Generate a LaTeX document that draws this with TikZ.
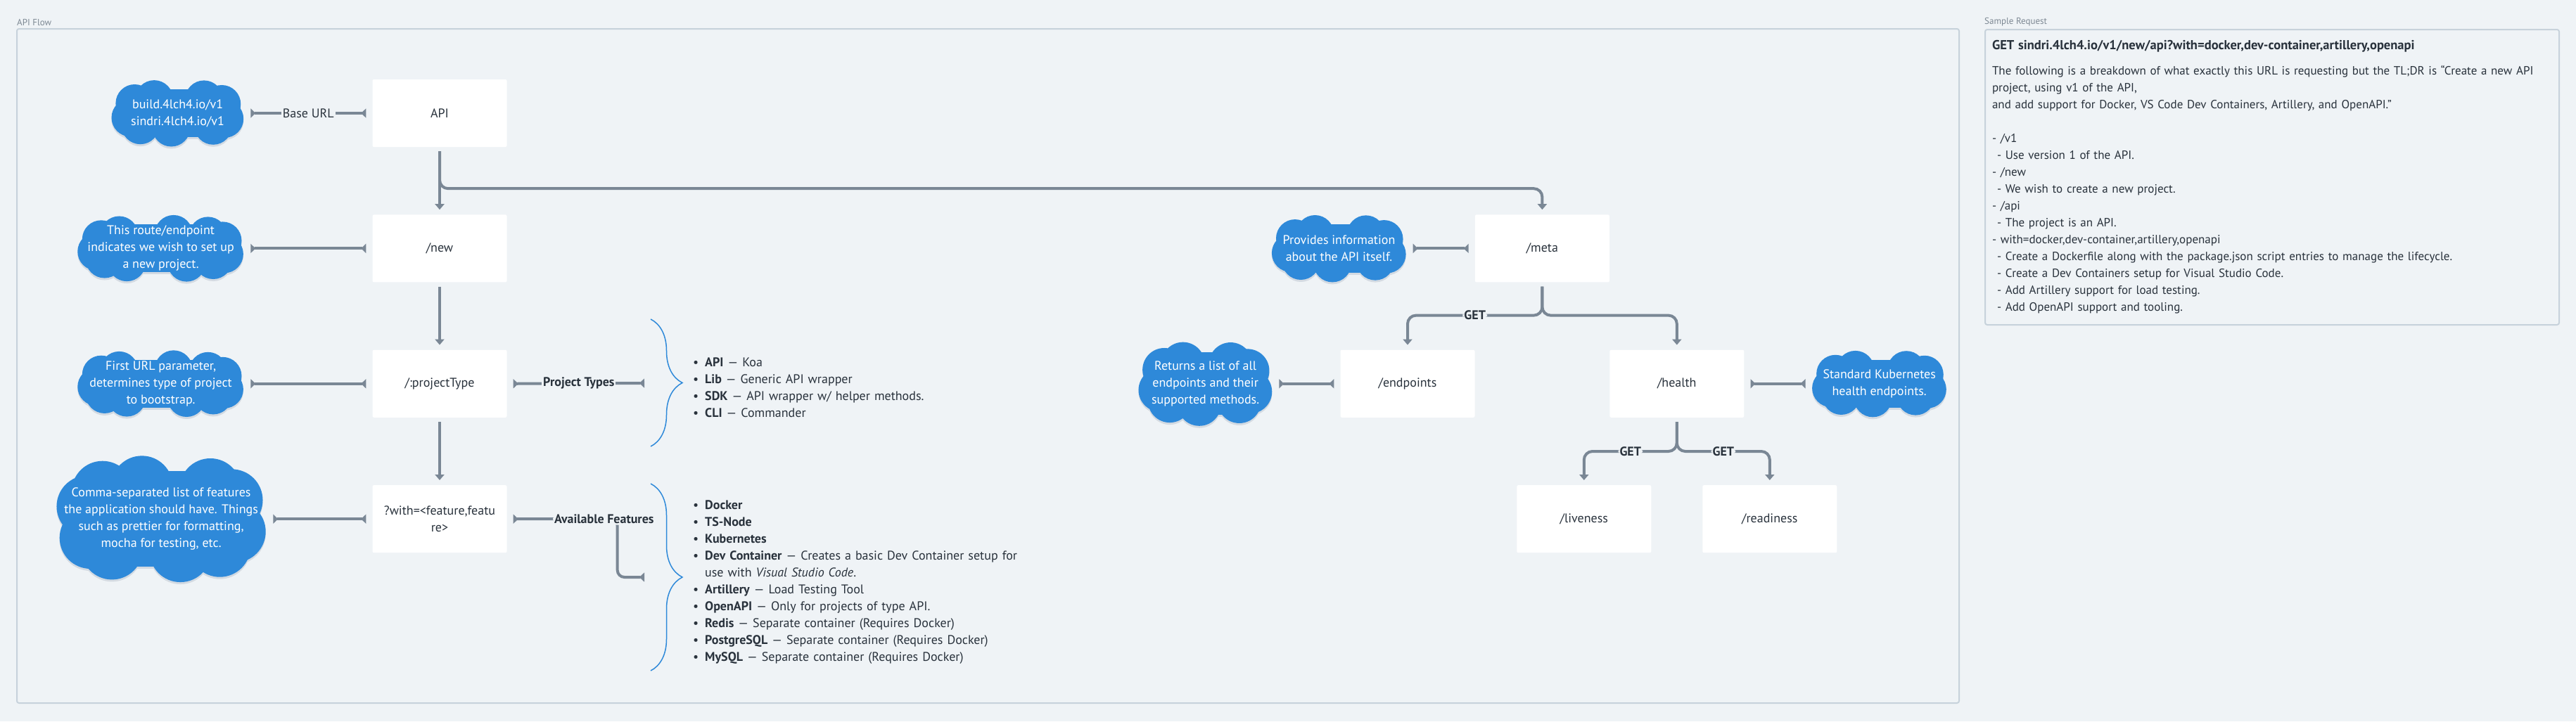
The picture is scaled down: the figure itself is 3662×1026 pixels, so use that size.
\documentclass[tikz,border=0pt]{standalone}
\usepackage{fontspec}
\setmainfont{PT Sans}
\usepackage{xcolor}
\usetikzlibrary{positioning,arrows.meta,backgrounds,decorations.pathreplacing}

\definecolor{canvas}{HTML}{EFF3F6}
\definecolor{framec}{HTML}{C7D2DB}
\definecolor{linec}{HTML}{7A8795}
\definecolor{cloudc}{HTML}{2E89D9}
\definecolor{shadowc}{HTML}{D3DAE2}
\definecolor{inkc}{HTML}{29323C}
\definecolor{capc}{HTML}{7D8893}

\newcommand\litem[1]{\par\noindent\hangindent=17pt\hangafter=1\makebox[17pt][l]{\textbullet}#1\par}

% cloud puffs behind a note node: node, half width, half height, puff radius, puffs
\newcommand\cloudpuffs[5]{%
  \foreach \pcol/\pdy in {shadowc/3,cloudc/0}{
    \begin{scope}[shift={(#1.center)}, yshift=-\pdy pt]
      \fill[\pcol] (-#2+#4,-#3+0.5*#4) rectangle (#2-#4,#3-0.5*#4);
      \fill[\pcol] (-#2+0.5*#4,-#3+#4) rectangle (#2-0.5*#4,#3-#4);
      \foreach \k in {1,...,#5}{
        \pgfmathsetmacro\pang{360*\k/#5+12}
        \pgfmathsetmacro\px{(#2-#4)*sign(cos(\pang))*abs(cos(\pang))^0.6}
        \pgfmathsetmacro\py{(#3-#4)*sign(sin(\pang))*abs(sin(\pang))^0.6}
        \fill[\pcol] (\px,\py) circle[radius=#4];
      }
    \end{scope}}}

\begin{document}
\begin{tikzpicture}[
  x=1pt, y=-1pt,
  node distance=96pt,
  every node/.style={text=inkc},
  box/.style={fill=white, minimum width=191pt, minimum height=96pt, align=center, inner sep=6pt, font=\fontsize{18}{24}\selectfont, rounded corners=2pt},
  note/.style={text=white, align=center, inner sep=0pt, font=\fontsize{18}{24}\selectfont},
  lbl/.style={fill=canvas, inner sep=2pt, font=\fontsize{18}{20}\selectfont},
  blbl/.style={lbl, font=\fontsize{18}{20}\selectfont\bfseries},
  arr/.style={-{Triangle[length=8pt,width=13pt]}, line width=4pt, draw=linec, shorten <=6pt, shorten >=7pt},
  link/.style={{Triangle[reversed,length=7pt,width=13pt]}-{Triangle[reversed,length=7pt,width=13pt]}, line width=4pt, draw=linec, shorten <=9pt, shorten >=9pt},
  brc/.style={draw=cloudc, line width=1.5pt, decorate, decoration={brace, amplitude=45pt}},
  lst/.style={anchor=west, align=left, inner sep=0pt, text width=560pt, font=\fontsize{18}{24}\selectfont},
  captext/.style={anchor=south west, inner sep=0pt, text=capc, font=\fontsize{13}{14}\selectfont},
]
\begin{pgfonlayer}{background}
  \fill[canvas] (0,0) rectangle (3662,1026);
\end{pgfonlayer}
\useasboundingbox (0,0) rectangle (3662,1026);

% frames
\draw[framec, line width=2pt, rounded corners=3pt] (24,41) rectangle (2785,1000);
\node[captext] (flowcap) at (24,37) {API Flow};
\node[captext] (samplecap) at (2821,37) {Sample Request};

% route column
\node[box] (api) at (625,161) {API};
\node[box, below=of api] (new) {/new};
\node[box, below=of new] (ptype) {/:projectType};
\node[box, below=of ptype] (with) {?with=<feature,featu\\re>};

\node[note, minimum width=189pt, minimum height=95pt, left=182pt of api] (base) {build.4lch4.io/v1\\sindri.4lch4.io/v1};
\node[note, minimum width=237pt, minimum height=95pt, left=182pt of new] (newnote) {This route/endpoint\\indicates we wish to set up\\a new project.};
\node[note, minimum width=237pt, minimum height=95pt, left=182pt of ptype] (ptypenote) {First URL parameter,\\determines type of project\\to bootstrap.};
\node[note, minimum width=300pt, minimum height=180pt, left=150pt of with] (withnote) {Comma-separated list of features\\the application should have. Things\\such as prettier for formatting,\\mocha for testing, etc.};

% meta column
\node[box, right=1376pt of new] (meta) {/meta};
\node[box, below left=96pt and 0pt of meta] (endpoints) {/endpoints};
\node[box, below right=96pt and 0pt of meta] (health) {/health};
\node[box, below=96pt of health, xshift=-132pt] (liveness) {/liveness};
\node[box, below=96pt of health, xshift=132pt] (readiness) {/readiness};

\node[note, minimum width=192pt, minimum height=96pt, left=97pt of meta] (metanote) {Provides information\\about the API itself.};
\node[note, minimum width=191pt, minimum height=120pt, left=96pt of endpoints] (epnote) {Returns a list of all\\endpoints and their\\supported methods.};
\node[note, minimum width=192pt, minimum height=95pt, right=96pt of health] (healthnote) {Standard Kubernetes\\health endpoints.};

\begin{pgfonlayer}{background}
  \cloudpuffs{base}{94.5}{47.5}{27}{9}
  \cloudpuffs{newnote}{118.5}{47.5}{27}{11}
  \cloudpuffs{ptypenote}{118.5}{47.5}{27}{11}
  \cloudpuffs{withnote}{150}{90}{44}{10}
  \cloudpuffs{metanote}{96}{48}{27}{9}
  \cloudpuffs{epnote}{95.5}{60}{31}{9}
  \cloudpuffs{healthnote}{96}{47.5}{27}{9}
\end{pgfonlayer}

% option lists
\coordinate (typesbrc) at (925,545);
\coordinate (featbrc) at (925,821);
\draw[brc] (925,454) -- (925,635);
\draw[brc] (925,688) -- (925,954);
\node[lst] (types) at (985,546) {%
  \litem{\textbf{API} --- Koa}
  \litem{\textbf{Lib} --- Generic API wrapper}
  \litem{\textbf{SDK} --- API wrapper w/ helper methods.}
  \litem{\textbf{CLI} --- Commander}};
\node[lst] (features) at (985,822) {%
  \litem{\textbf{Docker}}
  \litem{\textbf{TS-Node}}
  \litem{\textbf{Kubernetes}}
  \litem{\textbf{Dev Container} --- Creates a basic Dev Container setup for\newline use with \textit{Visual Studio Code}.}
  \litem{\textbf{Artillery} --- Load Testing Tool}
  \litem{\textbf{OpenAPI} --- Only for projects of type API.}
  \litem{\textbf{Redis} --- Separate container (Requires Docker)}
  \litem{\textbf{PostgreSQL} --- Separate container (Requires Docker)}
  \litem{\textbf{MySQL} --- Separate container (Requires Docker)}};

% sample request
\node[draw=framec, line width=2pt, rounded corners=3pt, anchor=north west, text width=796pt, minimum height=420pt, inner xsep=10pt, inner ysep=12pt, align=left, font=\fontsize{17}{24}\selectfont] (sample) at (2821,41) {%
  {\fontsize{18.5}{24}\selectfont\bfseries GET sindri.4lch4.io/v1/new/api?with=docker,dev-container,artillery,openapi}\\[12pt]
  The following is a breakdown of what exactly this URL is requesting but the TL;DR is “Create a new API\\
  project, using v1 of the API,\\
  and add support for Docker, VS Code Dev Containers, Artillery, and OpenAPI.”\\[24pt]
  - /v1\\
  \hspace*{7pt}- Use version 1 of the API.\\
  - /new\\
  \hspace*{7pt}- We wish to create a new project.\\
  - /api\\
  \hspace*{7pt}- The project is an API.\\
  - with=docker,dev-container,artillery,openapi\\
  \hspace*{7pt}- Create a Dockerfile along with the package.json script entries to manage the lifecycle.\\
  \hspace*{7pt}- Create a Dev Containers setup for Visual Studio Code.\\
  \hspace*{7pt}- Add Artillery support for load testing.\\
  \hspace*{7pt}- Add OpenAPI support and tooling.};

% connectors
\draw[arr] (api) -- (new);
\draw[arr] (new) -- (ptype);
\draw[arr] (ptype) -- (with);
\draw[arr, rounded corners=12pt] (api.south) -- ++(0,59) -| (meta.north);
\draw[arr, rounded corners=12pt] (meta.south) -- ++(0,47) -| node[blbl, pos=0.25]{GET} (endpoints.north);
\draw[arr, rounded corners=12pt] (meta.south) -- ++(0,47) -| (health.north);
\draw[arr, rounded corners=12pt] (health.south) -- ++(0,48) -| node[blbl, pos=0.25]{GET} (liveness.north);
\draw[arr, rounded corners=12pt] (health.south) -- ++(0,48) -| node[blbl, pos=0.25]{GET} (readiness.north);

\draw[link] (base.east) -- node[lbl]{Base URL} (api.west);
\draw[link] (newnote.east) -- (new.west);
\draw[link] (ptypenote.east) -- (ptype.west);
\draw[link] (withnote.east) -- (with.west);
\draw[link] (ptype.east) -- node[blbl]{Project Types} (typesbrc);
\draw[link, rounded corners=10pt] (with.east) -- node[blbl, pos=0.88]{Available Features} ++(157,0) |- (featbrc);
\draw[link] (metanote.east) -- (meta.west);
\draw[link] (epnote.east) -- (endpoints.west);
\draw[link] (health.east) -- (healthnote.west);
\end{tikzpicture}
\end{document}
